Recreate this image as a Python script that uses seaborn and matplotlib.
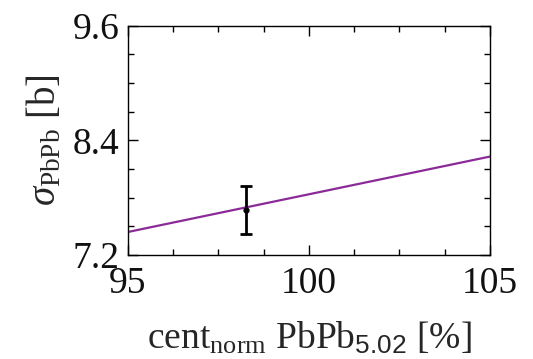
import matplotlib
matplotlib.use("Agg")
import matplotlib.pyplot as plt
from matplotlib.ticker import MultipleLocator
import seaborn as sns
import pandas as pd

# Linear fit of the PbPb cross section vs normalised centrality
fit_cent = [95.0, 105.0]
fit_sigma = [7.44, 8.23]

# Measured point with its uncertainty
point_cent = [98.27]
point_sigma = [7.67]
point_err = [0.25]

sns.set_theme(style="white")
plt.rcParams["font.family"] = ["Liberation Serif", "DejaVu Serif"]
plt.rcParams["mathtext.fontset"] = "custom"
plt.rcParams["mathtext.rm"] = "Liberation Serif"
plt.rcParams["mathtext.it"] = "Liberation Serif:italic"
plt.rcParams["mathtext.sf"] = "Liberation Sans"

fig, ax = plt.subplots(figsize=(5.33, 3.59), dpi=100)
fig.subplots_adjust(left=0.240, right=0.919, top=0.928, bottom=0.290)

fit_df = pd.DataFrame({"cent": fit_cent, "sigma": fit_sigma})
sns.lineplot(data=fit_df, x="cent", y="sigma", ax=ax, color="#8a2b98", linewidth=1.6)

ax.errorbar(point_cent, point_sigma, yerr=point_err, fmt="o", color="black",
            markersize=3.5, elinewidth=2.0, capsize=4.5, capthick=2.0, zorder=5)

ax.set_xlim(95, 105)
ax.set_ylim(7.2, 9.6)
ax.xaxis.set_minor_locator(MultipleLocator(1.25))
ax.yaxis.set_minor_locator(MultipleLocator(0.3))
ax.set_yticks([7.2, 8.4, 9.6])
ax.set_yticklabels(["7.2", "8.4", "9.6"])
ax.set_xticks([95, 100, 105])
ax.set_xticklabels(["95", "100", "105"])

ax.tick_params(which="both", direction="in", top=True, right=True,
               bottom=True, left=True, color="black", width=1.0,
               labelsize=27, labelcolor="#111111")
ax.tick_params(which="major", length=7)
ax.tick_params(axis="x", which="major", pad=8)
ax.tick_params(axis="y", which="major", pad=6)
ax.tick_params(which="minor", length=4)

for s in ax.spines.values():
    s.set_color("black")
    s.set_linewidth(1.0)

ax.set_xlabel(r"cent$_{\mathrm{norm}}$ PbPb$_{\mathsf{5.02}}$ [%]", fontsize=27, labelpad=14)
ax.set_ylabel(r"$\mathit{\sigma}_{\mathrm{PbPb}}$ [b]", fontsize=28, labelpad=6)

fig.savefig("out.png", dpi=100)
